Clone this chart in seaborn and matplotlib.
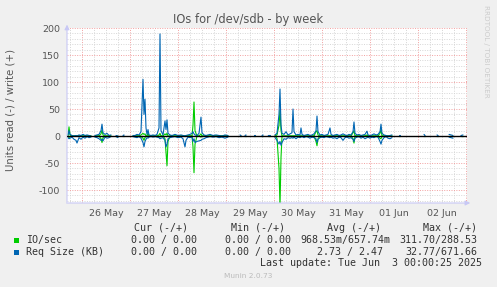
import numpy as np
import pandas as pd
import matplotlib
matplotlib.use("Agg")
import matplotlib.pyplot as plt
import seaborn as sns
from matplotlib.patches import Rectangle

nan = float("nan")

# x position: hours since 26 May 00:00 (NaN rows mark gaps in the data)
hours = [
    -7, -6.5, -6, -5, -4, -3, -2.5, -1.5, -0.5, 0.5, 1.5, 2.5, 3.5, 4.5, 5.5,
    6.5, 7.5, 8.5, 9.5, 10, 10.5, 11.5, 12.5, 13.5, 14.5, 15.5,
    17, 18, 18.5, 20.5, 21, 21.5,
    25.5, 26.5, 27.5, 28.5, 29.5, 30.5, 31, 31.5, 32, 32.5, 33, 33.5, 34.5, 35.5, 36.5,
    37.5, 38.5, 39, 39.5, 40.5, 41.5, 42, 42.5, 43, 44, 45, 46.5, 48, 49.5, 50.5,
    51.5, 52, 53, 54, 55, 55.5, 56, 56.5, 57.5, 58.5, 59.5, 60, 61, 62, 63,
    64, 65.5, 67, 68.5, 70, 71.5, 73, 74,
    79, 79.5, 80, 81.5, 82, 82.5, 86, 86.5, 87, 90, 90.5, 91, 93, 94, 94.5,
    96.5, 97.5, 98.5, 99, 99.5, 100, 101, 102, 103, 104, 105, 105.5, 106, 107, 108,
    109, 109.5, 110, 111, 112, 113, 114, 115, 116, 117, 117.5, 118, 119, 120, 121,
    122, 123, 124, 124.5, 125.5, 126.5, 127.5, 128.5, 129.5, 130.5, 131.5, 132.5, 133.5, 134.5, 135.5,
    136, 136.5, 137.5, 138.5, 139.5, 140.5, 141.5, 142.5, 143, 144, 145, 146, 147, 148, 149,
    149.5, 150, 151, 152, 153, 154, 155, 155.5,
    158.5, 159, 159.5, 171, 171.5, 172, 177.5, 178, 178.5, 183.5, 184.5, 185.5, 186, 189.5, 190.5, 191,
]

req_write = [
    2, 10, 3, 1, 0, 1, 0, 2, 1, 3, 1, 2, 1, 0, nan,
    1, 2, 3, 10, 22, 6, 3, 5, 1, 2, nan,
    1, 0, nan, 1, 2, nan,
    1, 1, 3, 2, 8, 105, 40, 68, 15, 3, 12, 2, 1, 2, 1,
    3, 15, 189, 10, 2, 28, 12, 30, 5, 2, 1, 3, 1, 2, 1,
    0, 1, 2, 3, 5, 8, 4, 2, 1, 5, 35, 6, 2, 1, 2,
    3, 1, 2, 1, 0, 2, 1, nan,
    2, 1, nan, 1, 2, nan, 1, 1, nan, 1, 2, nan, 1, 1, nan,
    2, 5, 40, 87, 20, 5, 3, 8, 2, 4, 6, 50, 8, 2, 3,
    2, 15, 3, 1, 2, 3, 1, 2, 4, 10, 37, 8, 2, 3, 1,
    2, 3, 15, 3, 1, 2, 3, 1, 2, 4, 2, 1, 3, 2, 8,
    26, 5, 2, 3, 1, 2, 3, 9, 2, 1, 2, 4, 2, 3, 8,
    22, 5, 2, 1, 0, 1, 2, nan,
    1, 1, nan, 3, 1, nan, 2, 1, nan, 3, 2, 1, nan, 1, 2, nan,
]

req_read = [
    3, 5, 4, 2, 6, 8, 13, 3, 6, 2, 4, 1, 3, 2, nan,
    2, 3, 5, 8, 6, 9, 2, 4, 3, 1, nan,
    1, 3, nan, 1, 0, nan,
    1, 2, 3, 1, 4, 12, 20, 10, 6, 3, 4, 2, 1, 2, 1,
    2, 3, 5, 4, 3, 8, 20, 15, 5, 3, 2, 1, 3, 2, 5,
    20, 8, 2, 3, 2, 10, 5, 12, 10, 9, 8, 6, 5, 3, 2,
    1, 2, 1, 3, 2, 4, 2, nan,
    1, 0, nan, 1, 0, nan, 1, 0, nan, 1, 0, nan, 0, 1, nan,
    3, 8, 15, 10, 17, 12, 5, 6, 3, 4, 3, 4, 2, 5, 2,
    3, 2, 1, 3, 1, 2, 4, 2, 3, 5, 12, 6, 3, 2, 3,
    1, 2, 3, 2, 4, 3, 5, 2, 3, 8, 3, 2, 4, 3, 6,
    10, 4, 2, 1, 4, 2, 5, 3, 2, 4, 2, 3, 1, 2, 10,
    15, 8, 3, 1, 4, 5, 3, nan,
    1, 0, nan, 1, 0, nan, 1, 0, nan, 2, 3, 4, nan, 0, 1, nan,
]

io_write = [
    0, 17, 2, 0, 0, 0, 0, 0, 0, 0, 0, 0, 0, 0, nan,
    0, 0, 0, 4, 11, 2, 0, 0, 0, 0, nan,
    0, 0, nan, 0, 0, nan,
    0, 0, 0, 0, 2, 5, 3, 4, 0, 0, 5, 0, 0, 0, 0,
    0, 2, 5, 0, 0, 4, 2, 5, 0, 0, 0, 0, 0, 0, 0,
    0, 0, 0, 0, 0, 20, 63, 10, 0, 0, 4, 0, 0, 0, 0,
    0, 0, 0, 0, 0, 0, 0, nan,
    0, 0, nan, 0, 0, nan, 0, 0, nan, 0, 0, nan, 0, 0, nan,
    0, 2, 20, 48, 10, 0, 0, 0, 0, 0, 0, 0, 0, 0, 0,
    0, 0, 0, 0, 0, 0, 0, 0, 0, 8, 10, 2, 0, 0, 0,
    0, 0, 0, 0, 0, 0, 0, 0, 0, 0, 0, 0, 0, 0, 6,
    10, 0, 0, 0, 0, 0, 0, 2, 0, 0, 0, 0, 0, 0, 5,
    12, 0, 0, 0, 0, 0, 0, nan,
    0, 0, nan, 0, 0, nan, 0, 0, nan, 0, 0, 0, nan, 0, 0, nan,
]

io_read = [
    0, 3, 1, 0, 0, 0, 0, 0, 0, 0, 0, 0, 0, 0, nan,
    0, 0, 0, 5, 12, 3, 0, 0, 0, 0, nan,
    0, 0, nan, 0, 0, nan,
    0, 0, 0, 0, 1, 4, 8, 3, 0, 0, 0, 0, 0, 0, 0,
    0, 0, 2, 0, 0, 5, 30, 55, 10, 0, 0, 0, 0, 0, 0,
    0, 0, 0, 0, 0, 20, 68, 15, 0, 0, 2, 0, 0, 0, 0,
    0, 0, 0, 0, 0, 0, 0, nan,
    0, 0, nan, 0, 0, nan, 0, 0, nan, 0, 0, nan, 0, 0, nan,
    0, 4, 60, 130, 40, 0, 0, 0, 0, 0, 0, 0, 0, 0, 0,
    0, 0, 0, 0, 0, 0, 0, 0, 0, 10, 18, 5, 0, 0, 0,
    0, 0, 0, 0, 0, 0, 0, 0, 0, 0, 0, 0, 0, 0, 5,
    13, 0, 0, 0, 0, 0, 0, 0, 0, 0, 0, 0, 0, 0, 4,
    5, 0, 0, 0, 0, 0, 0, nan,
    0, 0, nan, 0, 0, nan, 0, 0, nan, 0, 0, 0, nan, 0, 0, nan,
]

day_labels = ["26 May", "27 May", "28 May", "29 May", "30 May", "31 May", "01 Jun", "02 Jun"]
y_ticks = [-100, -50, 0, 50, 100, 150, 200]

legend_names = ["IO/sec", "Req Size (KB)"]
cur_vals = ["0.00 / 0.00", "0.00 / 0.00"]
min_vals = ["0.00 / 0.00", "0.00 / 0.00"]
avg_vals = ["968.53m/657.74m", "2.73 / 2.47"]
max_vals = ["311.70/288.53", "32.77/671.66"]

GREEN = "#00CC00"
BLUE = "#0066B3"
BG = "#F0F0F0"
GRID_MINOR = "#D6D6D6"
GRID_MAJOR = "#F2A0A0"
AXIS_COL = "#C8C8F5"
TXT = "#555555"
LEG_TXT = "#333333"

sns.set_theme(style="white")
plt.rcParams["font.family"] = ["DejaVu Sans"]

W, H = 497, 287
fig = plt.figure(figsize=(W / 100, H / 100), dpi=100, facecolor=BG)


def fx(px):
    return px / W


def fy(py):
    return 1 - py / H


ax = fig.add_axes([fx(67), fy(203), fx(467) - fx(67), fy(28) - fy(203)])
ax.set_facecolor("white")

df = pd.DataFrame({
    "hours": hours,
    "req_w": req_write,
    "req_r": [-v for v in req_read],
    "io_w": io_write,
    "io_r": [-v for v in io_read],
})
df["seg"] = df["req_w"].isna().cumsum()

# grid
x_grid = list(range(-6, 193, 6))
y_grid = list(range(-120, 201, 10))
for h in x_grid:
    major = (h % 24 == 0)
    ax.axvline(h, color=GRID_MAJOR if major else GRID_MINOR, lw=0.7,
               ls=(0, (1, 1.5)), zorder=1)
for v in y_grid:
    major = (v % 50 == 0)
    ax.axhline(v, color=GRID_MAJOR if major else GRID_MINOR, lw=0.7,
               ls=(0, (1, 1.5)), zorder=1)

for col, color in [("io_r", GREEN), ("io_w", GREEN), ("req_r", BLUE), ("req_w", BLUE)]:
    sub = df[["hours", col, "seg"]].dropna()
    sns.lineplot(data=sub, x="hours", y=col, units="seg", estimator=None,
                 color=color, lw=0.8, ax=ax, legend=False, zorder=3)

ax.axhline(0, color="black", lw=1.0, zorder=4)

ax.set_xlim(-7.5, 192.5)
ax.set_ylim(-124, 200)
ax.set_xticks([12 + 24 * i for i in range(len(day_labels))], day_labels)
ax.set_yticks(y_ticks, [str(v) for v in y_ticks])
ax.set_xticks(x_grid, minor=True)
ax.set_yticks(y_grid, minor=True)
ax.tick_params(axis="both", which="major", length=0, labelsize=6.8, labelcolor=TXT)
ax.tick_params(axis="x", which="major", pad=4)
ax.tick_params(axis="y", which="major", pad=5)
ax.tick_params(axis="both", which="minor", direction="inout", length=3, width=0.6, color="#C4C4C4")
for t, h in zip(ax.xaxis.get_minor_ticks(), x_grid):
    if h % 24 == 0:
        t.tick1line.set_color("#F08080")
for t, v in zip(ax.yaxis.get_minor_ticks(), y_grid):
    if v % 50 == 0:
        t.tick1line.set_color("#F08080")
ax.set_xlabel("")
ax.set_ylabel("")
for s in ax.spines.values():
    s.set_visible(False)

# axes with arrows
ax.annotate("", xy=(0, 1.035), xytext=(0, -0.01), xycoords="axes fraction",
            arrowprops=dict(arrowstyle="-|>", color=AXIS_COL, lw=0.8, mutation_scale=7),
            annotation_clip=False)
ax.annotate("", xy=(1.015, 0.0), xytext=(-0.008, 0.0), xycoords="axes fraction",
            arrowprops=dict(arrowstyle="-|>", color=AXIS_COL, lw=0.8, mutation_scale=7),
            annotation_clip=False)

# texts
fig.text(fx(248.5), fy(20), "IOs for /dev/sdb - by week", ha="center", va="center",
         fontsize=8.3, color=TXT)
fig.text(fx(11), fy(110), "Units read (-) / write (+)", ha="center", va="center",
         rotation=90, fontsize=7.3, color=TXT)
fig.text(fx(486), fy(5), "RRDTOOL / TOBI OETIKER", ha="center", va="top",
         rotation=270, fontsize=5.2, color="#CCCCCC")

mono = "DejaVu Sans Mono"
fs = 7.2
header_y = 228
for xl, label in [(134, "Cur (-/+)"), (231, "Min (-/+)"), (327, "Avg (-/+)"), (423, "Max (-/+)")]:
    fig.text(fx(xl), fy(header_y), label, ha="left", va="center", family=mono,
             fontsize=fs, color=LEG_TXT)

rows_y = [240, 252]
colors = [GREEN, BLUE]
for i, name in enumerate(legend_names):
    y = rows_y[i]
    fig.patches.append(Rectangle((fx(14), fy(y + 2.5)), 5 / W, 5 / H,
                                 transform=fig.transFigure, facecolor=colors[i],
                                 edgecolor="none"))
    fig.text(fx(26), fy(y), name, ha="left", va="center", family=mono, fontsize=fs, color=LEG_TXT)
    for xr, vals in [(197, cur_vals), (291, min_vals), (390 if i == 0 else 383, avg_vals), (477, max_vals)]:
        fig.text(fx(xr), fy(y), vals[i], ha="right", va="center", family=mono,
                 fontsize=fs, color=LEG_TXT)

fig.text(fx(482), fy(263.5), "Last update: Tue Jun  3 00:00:25 2025", ha="right", va="center",
         family=mono, fontsize=fs, color=LEG_TXT)
fig.text(fx(248), fy(276), "Munin 2.0.73", ha="center", va="center", fontsize=5.3, color="#BBBBBB")

fig.savefig("out.png", dpi=100, facecolor=BG)
